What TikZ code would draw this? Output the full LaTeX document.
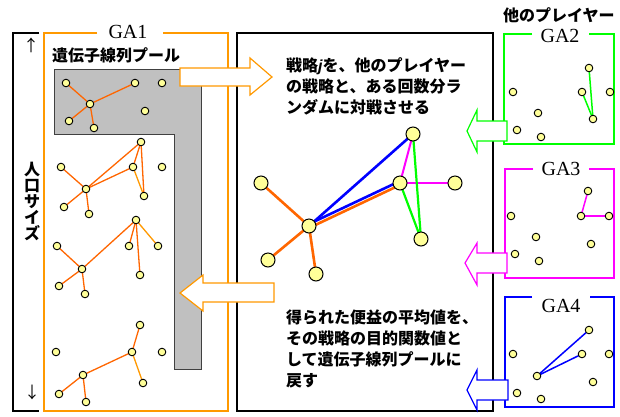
\documentclass[tikz,border=0pt]{standalone}
\usepackage{fontspec}
\newfontfamily\jp{Noto Sans CJK JP}
\newfontfamily\tms{Liberation Serif}
\newfontfamily\ars{Liberation Sans}
\usetikzlibrary{calc}
\pgfdeclarelayer{bg}
\pgfdeclarelayer{edges}
\pgfsetlayers{bg,edges,main}
\definecolor{gaone}{RGB}{255,153,0}
\definecolor{edgeA}{RGB}{255,102,0}
\definecolor{edgeB}{RGB}{255,153,0}
\definecolor{nodefill}{RGB}{255,255,153}
\definecolor{gaG}{RGB}{0,255,0}
\definecolor{gaM}{RGB}{255,0,255}
\definecolor{gaB}{RGB}{0,0,255}
\definecolor{poolgray}{RGB}{192,192,192}
\definecolor{poolline}{RGB}{64,64,64}
\tikzset{
  dot/.style={circle,draw=black,line width=0.9pt,fill=nodefill,minimum size=7.6pt,inner sep=0pt},
  bigdot/.style={circle,draw=black,line width=1pt,fill=nodefill,minimum size=14pt,inner sep=0pt},
  ea/.style={draw=edgeA,line width=1.3pt},
  eb/.style={draw=edgeB,line width=1.3pt},
  jptext/.style={font=\jp\bfseries\fontsize{16}{21}\selectfont,inner sep=0pt,anchor=base west},
  galabel/.style={font=\tms\fontsize{20}{20}\selectfont,inner sep=0pt,anchor=base},
  blockarrow/.style={fill=white,line width=1.2pt,line join=miter},
}
\begin{document}
\begin{tikzpicture}[x=1pt,y=-1pt]
\useasboundingbox (0,0) rectangle (620,416);

% ---------- background shapes ----------
\begin{pgfonlayer}{bg}
  \fill[white] (0,0) rectangle (620,416);
  % population size bracket
  \draw[line width=1.6pt] (39,33) -- (13,33) -- (13,411) -- (39,411);
  % GA1 box
  \draw[gaone,line width=1.6pt] (97,33) -- (44,33) -- (44,411) -- (228,411) -- (228,33) -- (163,33);
  % gene pool
  \draw[fill=poolgray,draw=poolline,line width=1pt]
    (54,69) -- (201,69) -- (201,369) -- (174,369) -- (174,134) -- (54,134) -- cycle;
  % center box
  \draw[line width=1.3pt] (237,33) rectangle (493,411);
  % GA2..GA4 boxes
  \draw[gaG,line width=1.6pt] (532,34) -- (504,34) -- (504,144) -- (614,144) -- (614,34) -- (589,34);
  \draw[gaM,line width=1.6pt] (533,169) -- (505,169) -- (505,278) -- (614,278) -- (614,169) -- (589,169);
  \draw[gaB,line width=1.6pt] (532,297) -- (505,297) -- (505,407) -- (614,407) -- (614,297) -- (590,297);
\end{pgfonlayer}

% ---------- labels ----------
\node[galabel] (ga1) at (128,38) {GA1};
\node[galabel] (ga2) at (560,42) {GA2};
\node[galabel] (ga3) at (561,175) {GA3};
\node[galabel] (ga4) at (561,312) {GA4};
\node[jptext] (pooltitle) at (52,61) {遺伝子線列プール};
\node[jptext] (others) at (503,21) {他のプレイヤー};
\node[font=\jp\fontsize{16}{16}\selectfont,inner sep=0pt] (up) at (31,45) {↑};
\node[font=\jp\fontsize{16}{16}\selectfont,inner sep=0pt] (down) at (32,392) {↓};
\node[font=\jp\bfseries\fontsize{16}{16}\selectfont,align=center,inner sep=0pt] (popsize) at (32,201) {人\\口\\サ\\イ\\ズ};

\node[jptext] (t1) at (286,71) {戦略{\ars\bfseries\itshape j}を、他のプレイヤー};
\node[jptext] (t2) at (286,92) {の戦略と、ある回数分ラ};
\node[jptext] (t3) at (286,113) {ンダムに対戦させる};
\node[jptext] (u1) at (286,323) {得られた便益の平均値を、};
\node[jptext] (u2) at (286,344) {その戦略の目的関数値と};
\node[jptext] (u3) at (286,365) {して遺伝子線列プールに};
\node[jptext] (u4) at (286,386) {戻す};

% ---------- GA1 population ----------
% cluster a (in pool)
\node[dot] (a1) at (66,83) {};
\node[dot] (a2) at (135,83) {};
\node[dot] (a3) at (162,83) {};
\node[dot] (a4) at (90,104) {};
\node[dot] (a5) at (145,111) {};
\node[dot] (a6) at (69,121) {};
\node[dot] (a7) at (94,128) {};
% cluster b
\node[dot] (b1) at (141,142) {};
\node[dot] (b2) at (61,167) {};
\node[dot] (b3) at (133,167) {};
\node[dot] (b4) at (162,167) {};
\node[dot] (b5) at (86,189) {};
\node[dot] (b6) at (144,196) {};
\node[dot] (b7) at (64,207) {};
\node[dot] (b8) at (89,214) {};
% cluster c
\node[dot] (c1) at (136,220) {};
\node[dot] (c2) at (57,246) {};
\node[dot] (c3) at (129,246) {};
\node[dot] (c4) at (158,246) {};
\node[dot] (c5) at (82,269) {};
\node[dot] (c6) at (140,275) {};
\node[dot] (c7) at (59,286) {};
\node[dot] (c8) at (85,294) {};
% cluster d
\node[dot] (d1) at (140,325) {};
\node[dot] (d2) at (56,352) {};
\node[dot] (d3) at (132,352) {};
\node[dot] (d4) at (162,352) {};
\node[dot] (d5) at (83,375) {};
\node[dot] (d6) at (143,383) {};
\node[dot] (d7) at (59,394) {};
\node[dot] (d8) at (86,402) {};

% ---------- center network ----------
\node[bigdot] (m1) at (413,134) {};
\node[bigdot] (m2) at (261,183) {};
\node[bigdot] (m3) at (400,183) {};
\node[bigdot] (m4) at (455,183) {};
\node[bigdot] (m5) at (309,226) {};
\node[bigdot] (m6) at (421,239) {};
\node[bigdot] (m7) at (268,260) {};
\node[bigdot] (m8) at (316,274) {};

% ---------- GA2 ----------
\node[dot] (g1) at (589,68) {};
\node[dot] (g2) at (513,92) {};
\node[dot] (g3) at (582,92) {};
\node[dot] (g4) at (610,92) {};
\node[dot] (g5) at (538,113) {};
\node[dot] (g6) at (593,119) {};
\node[dot] (g7) at (517,130) {};
\node[dot] (g8) at (541,137) {};
% ---------- GA3 ----------
\node[dot] (h1) at (588,191) {};
\node[dot] (h2) at (511,216) {};
\node[dot] (h3) at (581,216) {};
\node[dot] (h4) at (609,216) {};
\node[dot] (h5) at (536,237) {};
\node[dot] (h6) at (591,244) {};
\node[dot] (h7) at (515,254) {};
\node[dot] (h8) at (539,261) {};
% ---------- GA4 ----------
\node[dot] (k1) at (589,330) {};
\node[dot] (k2) at (513,354) {};
\node[dot] (k3) at (582,354) {};
\node[dot] (k4) at (609,354) {};
\node[dot] (k5) at (537,376) {};
\node[dot] (k6) at (593,382) {};
\node[dot] (k7) at (517,393) {};
\node[dot] (k8) at (541,399) {};

% ---------- edges ----------
\begin{pgfonlayer}{edges}
  \draw[ea] (a1.center) -- (a4.center);
  \draw[ea] (a2.center) -- (a4.center);
  \draw[ea] (a4.center) -- (a6.center);
  \draw[ea] (a4.center) -- (a7.center);

  \draw[ea] (b2.center) -- (b5.center);
  \draw[ea] (b5.center) -- (b1.center);
  \draw[ea] (b5.center) -- (b3.center);
  \draw[ea] (b5.center) -- (b7.center);
  \draw[ea] (b5.center) -- (b8.center);
  \draw[ea] (b1.center) -- (b3.center);
  \draw[ea] (b1.center) -- (b6.center);
  \draw[eb] (b3.center) -- (b6.center);

  \draw[ea] (c2.center) -- (c5.center);
  \draw[ea] (c5.center) -- (c1.center);
  \draw[ea] (c1.center) -- (c3.center);
  \draw[eb] (c1.center) -- (c4.center);
  \draw[ea] (c1.center) -- (c6.center);
  \draw[ea] (c5.center) -- (c7.center);
  \draw[ea] (c5.center) -- (c8.center);

  \draw[ea] (d1.center) -- (d3.center);
  \draw[ea] (d3.center) -- (d5.center);
  \draw[eb] (d3.center) -- (d6.center);
  \draw[ea] (d5.center) -- (d7.center);
  \draw[ea] (d5.center) -- (d8.center);

  % center network
  \draw[edgeA,line width=2.6pt] (m2.center) -- (m5.center);
  \draw[edgeA,line width=2.6pt] (m5.center) -- (m7.center);
  \draw[edgeA,line width=2.6pt] (m5.center) -- (m8.center);
  \draw[edgeA,line width=2.6pt] ($(m5.center)+(0.8,1.6)$) -- ($(m3.center)+(0.8,1.6)$);
  \draw[gaB,line width=2.6pt] ($(m5.center)+(-0.8,-1.6)$) -- ($(m3.center)+(-0.8,-1.6)$);
  \draw[gaB,line width=2.6pt] (m5.center) -- (m1.center);
  \draw[gaM,line width=2pt] (m1.center) -- (m3.center);
  \draw[gaM,line width=2pt] (m3.center) -- (m4.center);
  \draw[gaG,line width=2.2pt] (m1.center) -- (m6.center);
  \draw[gaG,line width=2.2pt] (m3.center) -- (m6.center);

  \draw[gaG,line width=1.5pt] (g1.center) -- (g6.center);
  \draw[gaG,line width=1.5pt] (g3.center) -- (g6.center);
  \draw[gaM,line width=1.5pt] (h1.center) -- (h3.center);
  \draw[gaM,line width=2.6pt] (h3.center) -- (h4.center);
  \draw[gaB,line width=1.5pt] (k5.center) -- (k1.center);
  \draw[gaB,line width=1.5pt] (k5.center) -- (k3.center);
\end{pgfonlayer}

% ---------- block arrows ----------
\draw[blockarrow,draw=gaone] (180,68) -- (250,68) -- (250,58) -- (272,77) -- (250,95) -- (250,86) -- (180,86) -- cycle;
\draw[blockarrow,draw=gaone] (274,283) -- (203,283) -- (203,275) -- (180,293) -- (203,311) -- (203,302) -- (274,302) -- cycle;
\draw[blockarrow,draw=gaG] (507,121) -- (477,121) -- (477,110) -- (467,131) -- (477,152) -- (477,141) -- (507,141) -- cycle;
\draw[blockarrow,draw=gaM] (507,253) -- (477,253) -- (477,243) -- (465,263) -- (477,285) -- (477,273) -- (507,273) -- cycle;
\draw[blockarrow,draw=gaB] (508,380) -- (477,380) -- (477,370) -- (467,390) -- (477,410) -- (477,400) -- (508,400) -- cycle;
\end{tikzpicture}
\end{document}
